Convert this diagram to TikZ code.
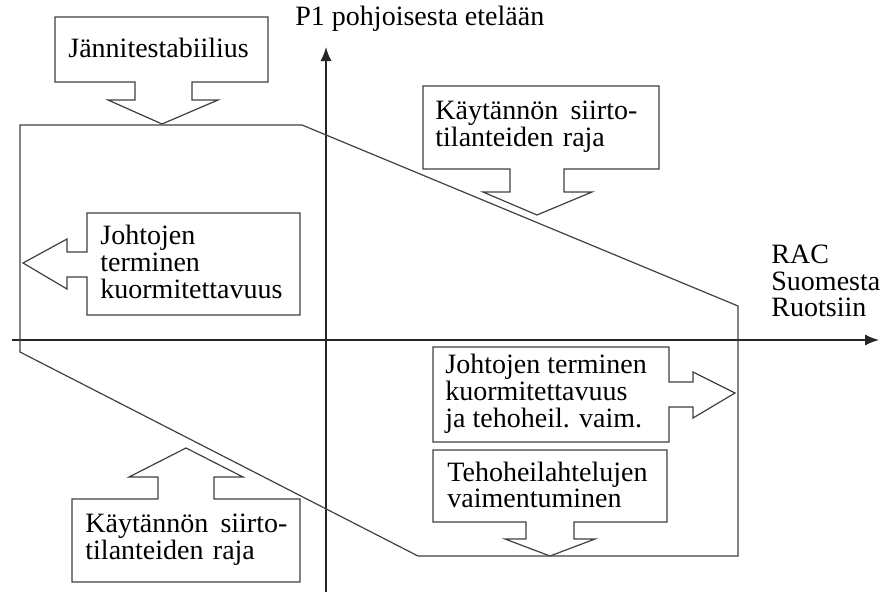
\documentclass[tikz,border=0pt]{standalone}
\usepackage{fontspec}
\setmainfont{Liberation Serif}
\usetikzlibrary{arrows.meta}

\newcommand*{\axisx}{326}
\newcommand*{\axisy}{340}

\begin{document}
\begin{tikzpicture}
[
	x=0.5pt, y=-0.5pt,
	outline/.style={draw=black!75,line width=0.6pt,line join=miter},
	callout/.style={outline,fill=white},
	label/.style={inner sep=0pt,anchor=west,align=left,font=\fontsize{14}{13.4}\selectfont},
	axis/.style={draw=black!85,line width=0.7pt,-{Latex[length=7pt,width=5.5pt]}}
]
	\useasboundingbox (0,0) rectangle (882,594);

	% axes
	\coordinate (xfrom) at (12,\axisy);
	\coordinate (xto) at (879,\axisy);
	\coordinate (yfrom) at (\axisx,592);
	\coordinate (yto) at (\axisx,47);
	\draw[axis] (xfrom) -- (xto);
	\draw[axis] (yfrom) -- (yto);
	\node[label] (ylabel) at (295,19) {P1 pohjoisesta etelään};
	\node[label] (xlabel) at (771,281) {RAC\\Suomesta\\Ruotsiin};

	% operating region
	\draw[outline] (20,125) -- (302,125) -- (738,306) -- (738,556) -- (418,556) -- (20,352) -- cycle;

	% voltage stability (top left)
	\draw[callout] (55,17) -- (268,17) -- (268,82) -- (192,82) -- (192,100) -- (218,100) -- (162,124)
		-- (108,100) -- (135,100) -- (135,82) -- (55,82) -- cycle;
	\node[label] (stability) at (68,48) {Jännitestabiilius};

	% practical limit (top right)
	\draw[callout] (423,86) -- (659,86) -- (659,169) -- (564,169) -- (564,192) -- (592,192) -- (537,215)
		-- (483,192) -- (510,192) -- (510,169) -- (423,169) -- cycle;
	\node[label,text width=101pt] (limittop) at (435,127) {Käytännön\hfill siirto-\\tilanteiden raja};

	% thermal loadability (left)
	\draw[callout] (87,213) -- (300,213) -- (300,315) -- (87,315) -- (87,277) -- (67,277) -- (67,289)
		-- (23,263) -- (67,239) -- (67,252) -- (87,252) -- cycle;
	\node[label] (thermleft) at (100,262) {Johtojen\\terminen\\kuormitettavuus};

	% thermal loadability and damping (right)
	\draw[callout] (433,347) -- (669,347) -- (669,382) -- (693,382) -- (693,372) -- (735,393)
		-- (693,418) -- (693,407) -- (669,407) -- (669,442) -- (433,442) -- cycle;
	\node[label] (thermright) at (445,394) {Johtojen terminen\\kuormitettavuus\\ja tehoheil. vaim.};

	% damping (bottom right)
	\draw[callout] (433,450) -- (667,450) -- (667,522) -- (574,522) -- (574,539) -- (595,539) -- (550,556)
		-- (505,539) -- (526,539) -- (526,522) -- (433,522) -- cycle;
	\node[label] (damping) at (447,485) {Tehoheilahtelujen\\vaimentuminen};

	% practical limit (bottom left)
	\draw[callout] (72,499) -- (158,499) -- (158,477) -- (129,477) -- (186,448) -- (243,477) -- (214,477)
		-- (214,499) -- (300,499) -- (300,582) -- (72,582) -- cycle;
	\node[label,text width=101pt] (limitbottom) at (85,540) {Käytännön\hfill siirto-\\tilanteiden raja};

\end{tikzpicture}
\end{document}
